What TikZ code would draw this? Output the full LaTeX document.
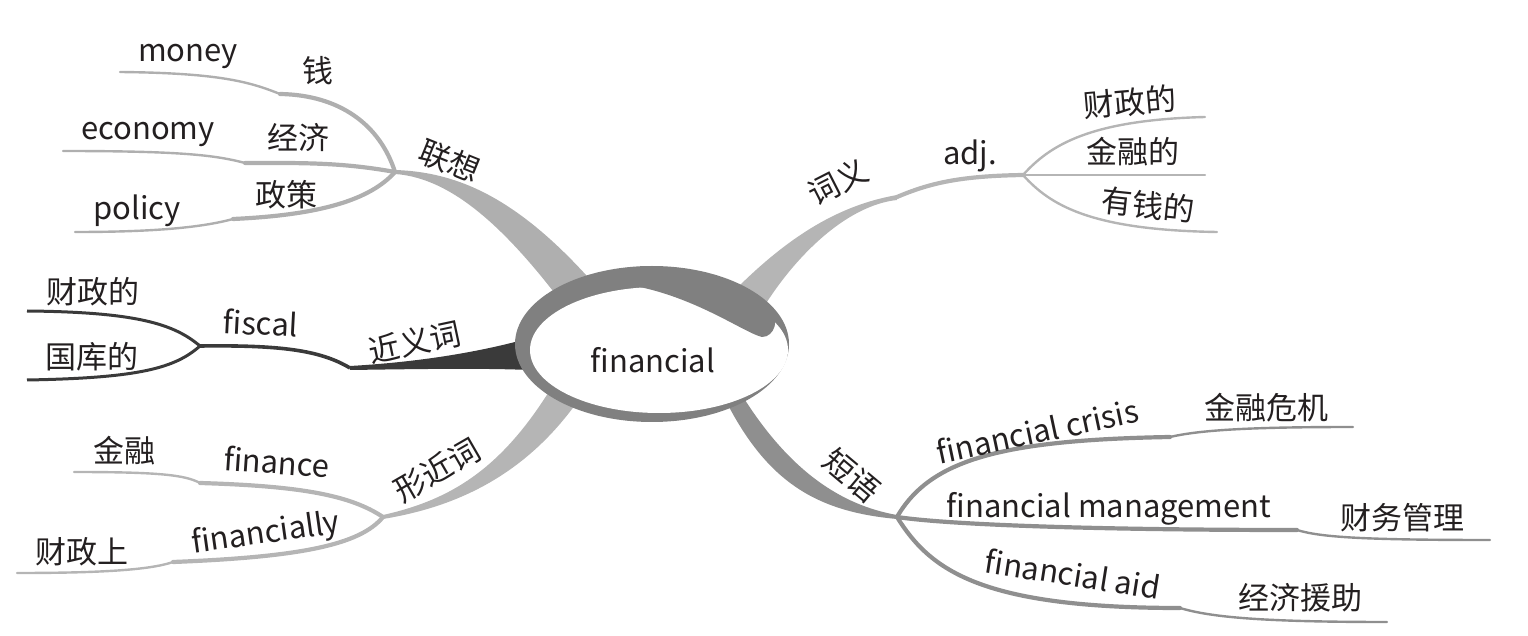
\documentclass[tikz,border=0pt]{standalone}
\usepackage{fontspec}
\setmainfont{Noto Sans CJK SC}
\definecolor{ringgray}{HTML}{808080}
\definecolor{lgA}{HTML}{AFAFAF}
\definecolor{lgB}{HTML}{B5B5B5}
\definecolor{mgE}{HTML}{8F8F8F}
\definecolor{dkB}{HTML}{3A3A3A}
\definecolor{txt}{HTML}{231F20}
\begin{document}
\begin{tikzpicture}[x=0.5pt,y=-0.5pt,
  lbl/.style={inner sep=0pt, font=\fontsize{15.5pt}{18pt}\selectfont, text=txt},
  lat/.style={lbl, anchor=base},
  cjk/.style={lbl, anchor=center},
  thk/.style={line width=2.1pt, line cap=round},
  thn/.style={line width=1.2pt, line cap=round}]
\useasboundingbox (0,0) rectangle (1528,636);

% ---------- junctions and end points ----------
\coordinate (jA) at (395,172);
\coordinate (kMoney) at (280,94);  \coordinate (eMoney) at (120,72);
\coordinate (kEco) at (245,163);   \coordinate (eEco) at (63,151);
\coordinate (kPol) at (233,219);   \coordinate (ePol) at (75,232);
\coordinate (jB) at (200,346);     \coordinate (kB) at (350,368);
\coordinate (eB1) at (27,311);     \coordinate (eB2) at (27,380);
\coordinate (jC) at (383,517);
\coordinate (kFin) at (200,483);   \coordinate (eFin) at (74,472);
\coordinate (kFly) at (173,562);   \coordinate (eFly) at (17,573);
\coordinate (jD) at (897,197);     \coordinate (jAdj) at (1023,175);
\coordinate (eD1) at (1205,117);   \coordinate (eD2) at (1205,175);
\coordinate (eD3) at (1217,232);
\coordinate (jE) at (897,517);
\coordinate (kCr) at (1170,437);   \coordinate (eCr) at (1353,427);
\coordinate (kMg) at (1297,530);   \coordinate (eMg) at (1490,540);
\coordinate (kAid) at (1180,608);  \coordinate (eAid) at (1387,622);

% ---------- main tapered branches ----------
\fill[lgA] (395,170) .. controls (460,172) and (520,200) .. (595,285)
  -- (560,300) .. controls (510,235) and (455,178) .. (395,174) -- cycle;
\fill[dkB] (350,366) .. controls (420,362) and (480,352) .. (530,338)
  -- (530,370) .. controls (480,368) and (420,369) .. (350,370) -- cycle;
\fill[lgB] (383,515) .. controls (450,500) and (500,470) .. (550,390)
  -- (575,405) .. controls (520,480) and (450,508) .. (383,519) -- cycle;
\fill[lgB] (897,195) .. controls (840,205) and (790,235) .. (735,290)
  -- (765,305) .. controls (800,250) and (850,205) .. (897,200) -- cycle;
\fill[mgE] (745,400) .. controls (790,470) and (840,505) .. (897,515)
  -- (897,519) .. controls (820,512) and (770,485) .. (728,405) -- cycle;

% ---------- 联想 sub-branches ----------
\draw[lgA,thk] (jA) .. controls (380,125) and (340,95) .. (kMoney);
\draw[lgA,thn] (kMoney) .. controls (250,82) and (220,73) .. (eMoney);
\draw[lgA,thk] (jA) .. controls (340,162) and (300,163) .. (kEco);
\draw[lgA,thn] (kEco) .. controls (215,155) and (180,151) .. (eEco);
\draw[lgA,thk] (jA) .. controls (370,200) and (320,215) .. (kPol);
\draw[lgA,thn] (kPol) .. controls (200,228) and (150,232) .. (ePol);

% ---------- 近义词 sub-branches ----------
\draw[dkB,line width=1.8pt] (jB) .. controls (280,345) and (320,350) .. (kB);
\draw[dkB,line width=1.5pt] (jB) .. controls (175,325) and (140,312) .. (eB1);
\draw[dkB,line width=1.5pt] (jB) .. controls (175,368) and (140,378) .. (eB2);

% ---------- 形近词 sub-branches ----------
\draw[lgB,thk] (jC) .. controls (350,495) and (300,486) .. (kFin);
\draw[lgB,thn] (kFin) .. controls (185,475) and (160,472) .. (eFin);
\draw[lgB,thk] (jC) .. controls (360,545) and (300,557) .. (kFly);
\draw[lgB,thn] (kFly) .. controls (150,570) and (100,573) .. (eFly);

% ---------- 词义 sub-branches ----------
\draw[lgB,thk] (jD) .. controls (930,183) and (960,176) .. (jAdj);
\draw[lgB,thn] (jAdj) .. controls (1050,145) and (1090,120) .. (eD1);
\draw[lgB,thn] (jAdj) -- (eD2);
\draw[lgB,thn] (jAdj) .. controls (1050,205) and (1090,230) .. (eD3);

% ---------- 短语 sub-branches ----------
\draw[mgE,thk] (jE) .. controls (930,460) and (1000,440) .. (kCr);
\draw[mgE,thn] (kCr) .. controls (1200,430) and (1250,427) .. (eCr);
\draw[mgE,thk] (jE) .. controls (950,525) and (1100,530) .. (kMg);
\draw[mgE,thn] (kMg) .. controls (1320,537) and (1360,540) .. (eMg);
\draw[mgE,thk] (jE) .. controls (930,570) and (980,608) .. (kAid);
\draw[mgE,thn] (kAid) .. controls (1210,617) and (1260,622) .. (eAid);

% ---------- central ellipse ----------
\fill[ringgray] (652,344) ellipse [x radius=137, y radius=78];
\fill[white] (659,350) ellipse [x radius=129, y radius=63];
\fill[ringgray] (640,266) .. controls (700,268) and (745,285) .. (770,308)
  .. controls (780,318) and (775,337) .. (762,337)
  .. controls (745,333) and (700,300) .. (640,287) -- cycle;

% ---------- labels ----------
\node[lat] (center) at (653,373) {financial};

\node[lat] (tMoney) at (188,62) {money};
\node[cjk] (tQian) at (318,71) {钱};
\node[lat] (tEco) at (148,140) {economy};
\node[cjk] (tJingji) at (298,138) {经济};
\node[lat] (tPol) at (137,220) {policy};
\node[cjk] (tZhengce) at (286,195) {政策};
\node[cjk, rotate=-22] (tLX) at (450,161) {联想};

\node[cjk] (tB1) at (93,292) {财政的};
\node[cjk] (tB2) at (92,357) {国库的};
\node[lat, rotate=-3] (tFiscal) at (260,335) {fiscal};
\node[cjk, rotate=12] (tJYC) at (415,342) {近义词};

\node[cjk] (tJR) at (124,451) {金融};
\node[lat, rotate=-4] (tFinance) at (276,474) {finance};
\node[cjk] (tCZS) at (82,552) {财政上};
\node[lat, rotate=8] (tFly) at (267,543) {financially};
\node[cjk, rotate=30] (tXJC) at (437,470) {形近词};

\node[cjk, rotate=27] (tCY) at (838,182) {词义};
\node[lat] (tAdj) at (970,165) {adj.};
\node[cjk, rotate=5] (tD1) at (1130,102) {财政的};
\node[cjk] (tD2) at (1133,152) {金融的};
\node[cjk, rotate=-6] (tD3) at (1148,205) {有钱的};

\node[cjk, rotate=-40] (tDY) at (852,475) {短语};
\node[lat, rotate=12] (tCrisis) at (1040,443) {financial crisis};
\node[cjk] (tCrisisZ) at (1266,408) {金融危机};
\node[lat] (tMg) at (1109,517) {financial management};
\node[cjk] (tMgZ) at (1402,518) {财务管理};
\node[lat, rotate=-9] (tAid) at (1071,586) {financial aid};
\node[cjk] (tAidZ) at (1300,598) {经济援助};
\end{tikzpicture}
\end{document}
